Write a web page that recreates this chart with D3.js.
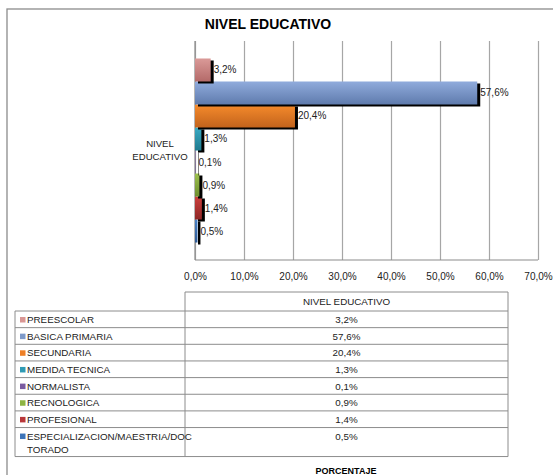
<!DOCTYPE html>
<html>
<head>
    <meta charset="UTF-8">
    <title>Nivel Educativo - D3.js</title>
    <script src="https://d3js.org/d3.v7.min.js"></script>
    <style>
        body { margin: 0; background: #fff; }
        svg { display: block; font-family: "Liberation Sans", Arial, sans-serif; }
        .grid line { stroke: #a6a6a6; stroke-width: 1.2px; }
        .grid path { display: none; }
        .x-axis path, .x-axis line { display: none; }
        .x-axis text { font-size: 10px; fill: #222; }
        .tabla line { stroke: #8c8c8c; stroke-width: 1px; }
        .tabla text { font-size: 9.8px; fill: #222; }
    </style>
</head>
<body>
<div id="chart"></div>
<script>
    // dati del grafico
    var categorie = ["PREESCOLAR", "BASICA PRIMARIA", "SECUNDARIA", "MEDIDA TECNICA",
        "NORMALISTA", "RECNOLOGICA", "PROFESIONAL", "ESPECIALIZACION/MAESTRIA/DOCTORADO"];
    var valori = [3.2, 57.6, 20.4, 1.3, 0.1, 0.9, 1.4, 0.5];
    var tickValori = [0, 10, 20, 30, 40, 50, 60, 70];
    var titolo = "NIVEL EDUCATIVO";
    var titoloAsseX = "PORCENTAJE";

    // colori (sopra chiaro, sotto scuro)
    var coloriTop = ["#DA9A98", "#90ABDC", "#F68B2C", "#3AAAC4", "#8A6BB0", "#9CC04E", "#CC3F3D", "#4A82C6"];
    var coloriBot = ["#B46A69", "#5F7BAD", "#C2631C", "#1F7A8E", "#5E4585", "#6E8F2E", "#8E2726", "#2E5A94"];
    var coloriLegenda = ["#D99694", "#7E9AC9", "#EE7F26", "#2F9AB4", "#7A5BA0", "#8DB443", "#B8373A", "#3D74B8"];

    var width = 553, height = 475;
    var plot = { left: 195, right: 538, top: 41, bottom: 260 };

    var formato = function (v) { return d3.format(".1f")(v).replace(".", ",") + "%"; };

    var svg = d3.select("#chart").append("svg")
        .attr("width", width)
        .attr("height", height);

    // cornice esterna
    svg.append("rect")
        .attr("x", 7).attr("y", 9)
        .attr("width", 600).attr("height", 500)
        .attr("fill", "none")
        .attr("stroke", "#8c8c8c")
        .attr("stroke-width", 1.3);

    svg.append("text")
        .attr("x", 268).attr("y", 29)
        .attr("text-anchor", "middle")
        .style("font-size", "14px")
        .style("font-weight", "bold")
        .text(titolo);

    var x = d3.scaleLinear().domain([0, 70]).range([plot.left, plot.right]);
    var y = d3.scaleBand().domain(categorie).range([plot.top, plot.bottom])
        .paddingInner(0).paddingOuter(0.76);

    // griglia
    svg.append("g")
        .attr("class", "grid")
        .attr("transform", "translate(0," + plot.bottom + ")")
        .call(d3.axisBottom(x).tickValues(tickValori).tickSize(-(plot.bottom - plot.top)).tickFormat(""));

    // assi
    svg.append("line")
        .attr("x1", plot.left).attr("x2", plot.right)
        .attr("y1", plot.bottom).attr("y2", plot.bottom)
        .attr("stroke", "#8c8c8c").attr("stroke-width", 1.2);
    svg.append("line")
        .attr("x1", plot.left).attr("x2", plot.left)
        .attr("y1", plot.top).attr("y2", plot.bottom)
        .attr("stroke", "#8c8c8c").attr("stroke-width", 1.2);

    svg.append("g")
        .attr("class", "x-axis")
        .attr("transform", "translate(0," + plot.bottom + ")")
        .call(d3.axisBottom(x).tickValues(tickValori).tickSize(0).tickPadding(13).tickFormat(formato));

    // gradienti
    var defs = svg.append("defs");
    categorie.forEach(function (c, i) {
        var g = defs.append("linearGradient")
            .attr("id", "grad" + i)
            .attr("x1", 0).attr("y1", 0).attr("x2", 0).attr("y2", 1);
        g.append("stop").attr("offset", "0%").attr("stop-color", coloriTop[i]);
        g.append("stop").attr("offset", "100%").attr("stop-color", coloriBot[i]);
    });

    var dati = categorie.map(function (c, i) { return { nome: c, valore: valori[i], i: i }; });
    // disegna dal basso verso l'alto, ogni barra con la sua ombra
    var gruppi = svg.append("g").selectAll("g.barra")
        .data(dati.slice().reverse())
        .enter().append("g").attr("class", "barra");

    gruppi.append("rect")
        .attr("x", x(0) + 3)
        .attr("y", function (d) { return y(d.nome) + 2; })
        .attr("width", function (d) { return x(d.valore) - x(0); })
        .attr("height", y.bandwidth())
        .attr("fill", "#000");

    gruppi.append("rect")
        .attr("x", x(0))
        .attr("y", function (d) { return y(d.nome); })
        .attr("width", function (d) { return x(d.valore) - x(0); })
        .attr("height", y.bandwidth())
        .attr("fill", function (d) { return "url(#grad" + d.i + ")"; });

    svg.append("g").selectAll("text")
        .data(dati)
        .enter().append("text")
        .attr("x", function (d) { return x(d.valore) + 3; })
        .attr("y", function (d) { return y(d.nome) + y.bandwidth() / 2 + 3.5; })
        .style("font-size", "10px")
        .style("fill", "#222")
        .text(function (d) { return formato(d.valore); });

    // etichetta asse y
    var ylab = svg.append("text")
        .attr("text-anchor", "middle")
        .style("font-size", "9.6px")
        .style("fill", "#222");
    ylab.append("tspan").attr("x", 160).attr("y", 147).text("NIVEL");
    ylab.append("tspan").attr("x", 160).attr("y", 160).text("EDUCATIVO");

    // tabella dati
    var tab = { left: 15, mid: 185, right: 508, headTop: 292, top: 311, rowH: 16.65 };
    var righe = categorie.map(function (c, i) {
        var linee = c.length > 30 ? [c.slice(0, 28), c.slice(28)] : [c];
        return { nome: c, linee: linee, i: i };
    });
    var yRiga = [tab.top];
    righe.forEach(function (r) {
        yRiga.push(yRiga[yRiga.length - 1] + (r.linee.length > 1 ? 29 : tab.rowH));
    });
    var tabBottom = yRiga[yRiga.length - 1];

    var t = svg.append("g").attr("class", "tabla");
    // bordo intestazione
    t.append("line").attr("x1", tab.mid).attr("x2", tab.right).attr("y1", tab.headTop).attr("y2", tab.headTop);
    t.append("line").attr("x1", tab.mid).attr("x2", tab.mid).attr("y1", tab.headTop).attr("y2", tabBottom);
    t.append("line").attr("x1", tab.right).attr("x2", tab.right).attr("y1", tab.headTop).attr("y2", tabBottom);
    t.append("line").attr("x1", tab.left).attr("x2", tab.left).attr("y1", tab.top).attr("y2", tabBottom);
    yRiga.forEach(function (yy) {
        t.append("line").attr("x1", tab.left).attr("x2", tab.right).attr("y1", yy).attr("y2", yy);
    });

    t.append("text")
        .attr("x", (tab.mid + tab.right) / 2)
        .attr("y", tab.headTop + 12.5)
        .attr("text-anchor", "middle")
        .text(titolo);

    righe.forEach(function (r, i) {
        var y0 = yRiga[i];
        t.append("rect")
            .attr("x", 20).attr("y", y0 + 6)
            .attr("width", 5.5).attr("height", 5.5)
            .attr("fill", coloriLegenda[i]);
        r.linee.forEach(function (l, k) {
            t.append("text")
                .attr("x", 27)
                .attr("y", y0 + 12 + k * 13.5)
                .text(l);
        });
        t.append("text")
            .attr("x", (tab.mid + tab.right) / 2)
            .attr("y", y0 + 12)
            .attr("text-anchor", "middle")
            .text(formato(valori[i]));
    });

    svg.append("text")
        .attr("x", 346).attr("y", 474)
        .attr("text-anchor", "middle")
        .style("font-size", "9px")
        .style("font-weight", "bold")
        .text(titoloAsseX);
</script>
</body>
</html>
